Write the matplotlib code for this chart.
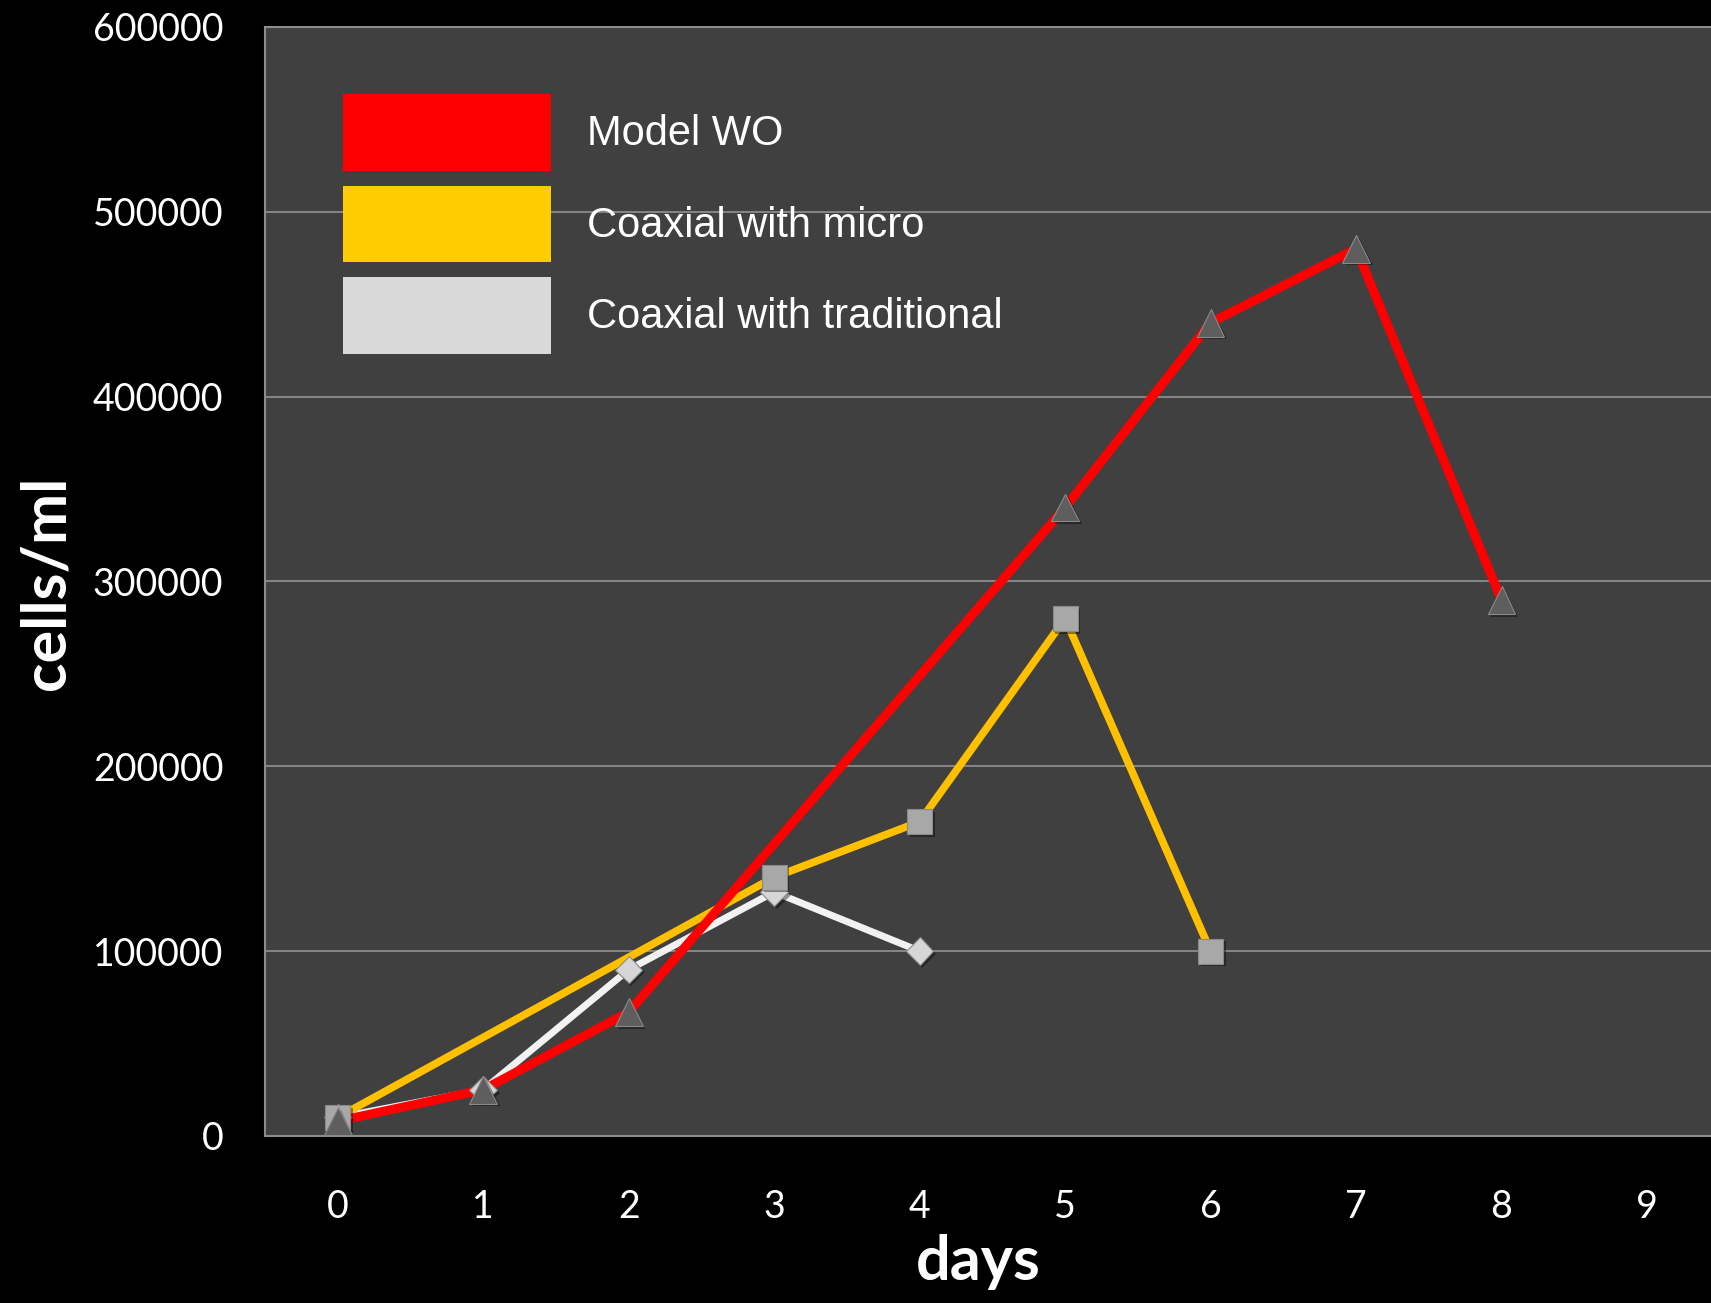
import numpy as np
import matplotlib.pyplot as plt
from matplotlib.patches import Patch
import matplotlib.patheffects as pe

days = np.arange(10)

# cell counts per day; None = not measured
model_wo = [8000, 25000, 67000, None, None, 340000, 440000, 480000, 290000, None]
coax_micro = [10000, None, None, 140000, 170000, 280000, 100000, None, None, None]
coax_trad = [10000, 25000, 90000, 132000, 100000, None, None, None, None, None]

series = [
    ("Model WO", model_wo, "#ff0000", "#ff0000", "^", "#5e5e5e", 20, 6.5, 5),
    ("Coaxial with micro", coax_micro, "#ffc000", "#ffcc00", "s", "#a8a8a8", 18, 5.5, 4),
    ("Coaxial with traditional", coax_trad, "#f2f2f2", "#d9d9d9", "D", "#d6d6d6", 14, 5.0, 3),
]

fig = plt.figure(figsize=(17.11, 13.03), dpi=100, facecolor="black")
ax = fig.add_axes([0.1549, 0.1282, 0.8451, 0.8511])
ax.set_facecolor("#404040")

shadow = [pe.SimplePatchShadow(offset=(2, -2), shadow_rgbFace="black", alpha=0.4), pe.Normal()]

for name, vals, lc, pc, mk, mc, ms, lw, z in series:
    x = [d for d, v in zip(days, vals) if v is not None]
    y = [v for v in vals if v is not None]
    ax.plot(x, y, color=lc, lw=lw, solid_joinstyle="miter", zorder=z)
    ax.plot(x, y, ls="none", marker=mk, ms=ms, mfc=mc, mec="#8a8a8a", mew=0.8,
            zorder=z + 5, path_effects=shadow)

ax.set_xlim(-0.5, 9.44)
ax.set_ylim(0, 600000)
ax.set_xticks(days)
ax.set_yticks(np.arange(0, 600001, 100000))
ax.tick_params(length=0, colors="white", labelsize=27)
ax.tick_params(axis="y", pad=30)
ax.tick_params(axis="x", pad=38)
for lab in ax.get_xticklabels() + ax.get_yticklabels():
    lab.set_family("Lato")

ax.grid(axis="y", color="#8c8c8c", lw=1.3)
ax.set_axisbelow(True)
for side in ["left", "bottom", "top"]:
    ax.spines[side].set_color("#8c8c8c")
    ax.spines[side].set_linewidth(1.5)
ax.spines["right"].set_visible(False)

ax.set_xlabel("days", color="white", fontsize=44, fontweight="bold", family="Lato")
ax.xaxis.set_label_coords(0.493, -0.088)
fig.text(0.027, 1 - 583 / 1303, "cells/ml", color="white", fontsize=44,
         fontweight="bold", family="Lato", rotation=90, ha="center", va="center")

handles = [Patch(facecolor=s[3], edgecolor="none") for s in series]
leg = ax.legend(handles, [s[0] for s in series], loc="upper left",
                bbox_to_anchor=(0.054, 0.9396), frameon=False,
                handlelength=5.0, handleheight=2.45, labelspacing=0.36,
                handletextpad=0.85, borderpad=0, borderaxespad=0,
                prop={"family": "Liberation Sans", "size": 30})
for t in leg.get_texts():
    t.set_color("white")

fig.savefig("out.png", facecolor="black")
